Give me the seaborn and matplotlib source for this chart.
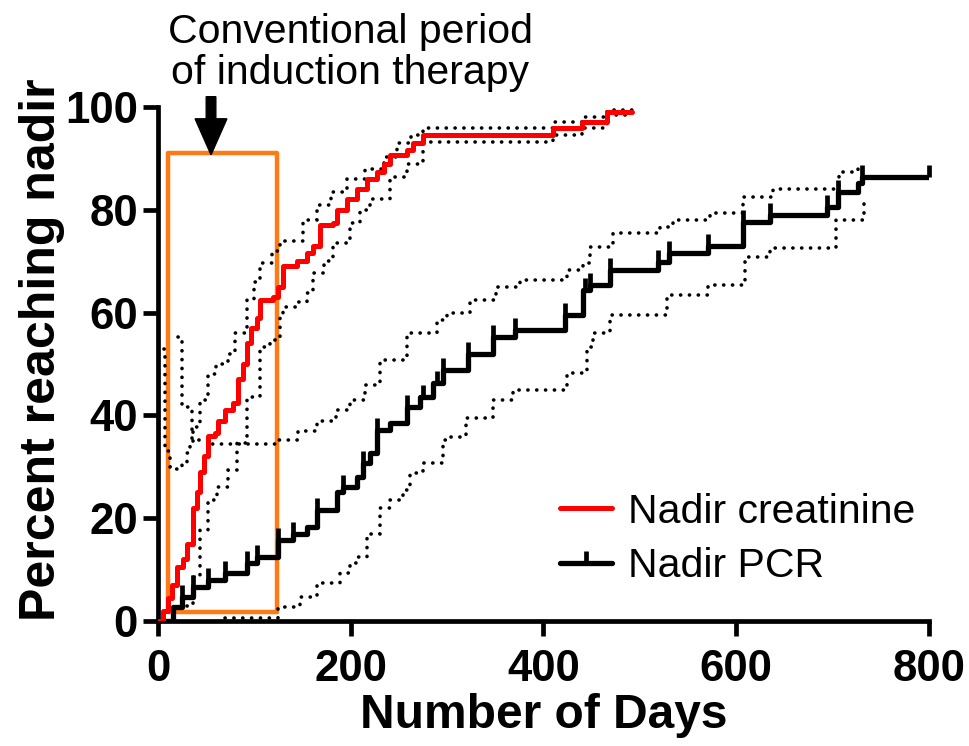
import numpy as np
import matplotlib
matplotlib.use("Agg")
import matplotlib.pyplot as plt
from matplotlib.lines import Line2D
from matplotlib.patches import Rectangle
import seaborn as sns

# ----------------------------
# DATA
# ----------------------------

# Nadir creatinine (Kaplan-Meier, percent reaching nadir)
cr_days = [0, 5, 10, 15, 20, 26, 30, 36, 40, 44, 48, 52, 59, 62, 70, 78, 83, 88,
           92, 97, 103, 106, 119, 124, 130, 144, 155, 161, 168, 182, 186, 196,
           206, 217, 227, 234, 241, 258, 265, 275, 410, 440, 466, 492]
cr_pct = [0, 2, 4.5, 7, 10.5, 12, 15, 22, 25, 29, 32, 36, 36.5, 39, 41, 42.4, 47, 50,
          54, 57, 59, 62.5, 63, 65, 69, 70, 71.6, 73, 77, 77.4, 80, 82,
          84, 86, 87.4, 89, 90.7, 91.6, 93, 94.6, 96, 97, 99, 99]

cr_hi_days = [6, 7, 12, 18, 25, 30, 33, 36, 44, 52, 60, 73, 80, 92, 100, 106, 118,
              127, 150, 165, 180, 196, 215, 234, 248, 262, 275, 410, 440, 466, 492]
cr_hi_pct = [53, 33, 30, 29.5, 31, 32.7, 34.6, 37.7, 43, 48, 50, 52, 56, 62.5, 66, 69.6, 72,
             74, 78, 81, 83.5, 86, 88, 90.3, 93, 94.5, 96, 97, 98, 99.4, 99.4]

cr_lo_days = [30, 36, 44, 52, 61, 73, 82, 92, 106, 116, 127, 130, 144, 155, 161, 172,
              182, 199, 210, 220, 241, 258, 275, 410, 440, 466, 492]
cr_lo_pct = [3, 8.5, 17.7, 23.5, 26, 29.4, 34.6, 43.6, 53.3, 54.7, 60, 61, 62, 63.8, 67.7, 70,
             73.5, 77.4, 80, 82, 86.4, 89, 93.2, 94.5, 96, 98.4, 98.4]

# Nadir PCR
pcr_days = [0, 16, 25, 36, 52, 70, 92, 103, 124, 140, 155, 165, 186, 192, 206, 213,
            220, 227, 241, 258, 272, 285, 296, 322, 348, 370, 422, 441, 448, 469,
            519, 530, 571, 607, 635, 694, 706, 726, 731, 800]
pcr_pct = [0, 2.7, 4.7, 6.6, 8, 9.3, 11.3, 12.5, 15.8, 17, 18.3, 21.6, 25, 26, 28, 30.7,
           32.7, 37.2, 38.5, 41.6, 43.6, 46.3, 48.8, 52, 55.3, 56.6, 59.5, 64.4, 65.4, 68.3,
           69.8, 71.6, 73, 77.6, 79, 80.5, 83.5, 85.2, 86.4, 86.4]

pcr_hi_days = [21, 25, 35, 54, 125, 145, 165, 185, 199, 215, 230, 258, 289, 300, 324,
               351, 376, 424, 441, 448, 472, 521, 534, 573, 607, 638, 707, 726, 730]
pcr_hi_pct = [55.3, 41.6, 35.2, 34.4, 35.2, 37, 39, 41, 43, 46, 50.8, 56, 58.6, 60, 62.5,
              65, 66.3, 68.3, 69.6, 72.8, 75.5, 76.7, 78, 79.4, 82.5, 84, 87.4, 88.7, 88.7]

pcr_lo_days = [70, 124, 147, 165, 189, 199, 206, 217, 230, 241, 254, 261, 275, 296, 303,
               320, 348, 368, 424, 445, 451, 469, 528, 571, 609, 635, 704, 733, 736]
pcr_lo_pct = [0.5, 2.7, 4.7, 7.4, 9.3, 11.3, 12.5, 17, 22, 23.5, 25.5, 28.8, 30.7, 35.2, 35.8,
              39.5, 43, 45, 48.2, 53.3, 56, 59.5, 63.4, 65.4, 70.8, 72.6, 78, 82, 82]

# censored observations on the PCR curve
pcr_censored = [25, 36, 52, 70, 92, 103, 124, 140, 165, 192, 213, 227, 258, 275, 289,
                296, 322, 348, 370, 422, 443, 448, 469, 519, 530, 571, 607, 635, 694,
                706, 731, 800]

# induction therapy window
induction_start = 10.5
induction_end = 123
induction_top = 91

# ----------------------------
# STYLE
# ----------------------------

sns.set_style("ticks")
plt.rcParams['font.family'] = ['Liberation Sans', 'DejaVu Sans']
plt.rcParams['text.color'] = 'black'
plt.rcParams['axes.labelcolor'] = 'black'
plt.rcParams['axes.edgecolor'] = 'black'
plt.rcParams['xtick.color'] = 'black'
plt.rcParams['ytick.color'] = 'black'

RED = '#ff0000'
ORANGE = '#ff7a14'
dotted = (0, (0.05, 2.4))
tick_marker = [(0, 0), (0, 1)]

fig = plt.figure(figsize=(9.7, 7.46), dpi=100)
ax = fig.add_axes([0.1629, 0.1676, 0.7948, 0.689])

# confidence bands (dotted)
for xs, ys in [(cr_hi_days, cr_hi_pct), (cr_lo_days, cr_lo_pct),
               (pcr_hi_days, pcr_hi_pct), (pcr_lo_days, pcr_lo_pct)]:
    sns.lineplot(x=xs, y=ys, ax=ax, color='black', lw=2.6, linestyle=dotted,
                 dash_capstyle='round', drawstyle='steps-post',
                 estimator=None, sort=False, zorder=3)

# induction period box
ax.add_patch(Rectangle((induction_start, 1.8), induction_end - induction_start,
                       induction_top - 1.8, fill=False, ec=ORANGE, lw=3.2,
                       joinstyle='round', zorder=2))

# survival curves
sns.lineplot(x=pcr_days, y=pcr_pct, ax=ax, color='black', lw=3.8,
             drawstyle='steps-post', estimator=None, sort=False, zorder=4)
sns.lineplot(x=cr_days, y=cr_pct, ax=ax, color=RED, lw=3.6,
             drawstyle='steps-post', estimator=None, sort=False, zorder=5)

# censor ticks
idx = np.searchsorted(pcr_days, pcr_censored, side='right') - 1
cens_y = np.array(pcr_pct)[idx]
ax.plot(pcr_censored, cens_y, ls='none', marker=tick_marker, ms=17, mew=3.4,
        color='black', zorder=4, clip_on=False)

# arrow to the induction period
ax.arrow(55, 102, 0, -11.3, width=10, head_width=33, head_length=7,
         length_includes_head=True, color='black', clip_on=False, zorder=6)

fig.text(0.361, 0.982, "Conventional period\nof induction therapy", ha='center',
         va='top', fontsize=29.5, linespacing=1.08)

ax.set_xlim(0, 800)
ax.set_ylim(0, 100)
ax.set_xticks([0, 200, 400, 600, 800])
ax.set_yticks([0, 20, 40, 60, 80, 100])
sns.despine(ax=ax)
for side in ['left', 'bottom']:
    ax.spines[side].set_linewidth(3.4)
ax.tick_params(length=10.5, width=3.4, labelsize=31.5)
ax.tick_params(axis='x', pad=10)
ax.tick_params(axis='y', pad=4)
for lab in ax.get_xticklabels() + ax.get_yticklabels():
    lab.set_fontweight('bold')

ax.set_xlabel("Number of Days", fontsize=34.5, fontweight='bold', labelpad=2)
ax.set_ylabel("Percent reaching nadir", fontsize=36, fontweight='bold',
              labelpad=0, y=0.527)

handles = [
    Line2D([], [], color=RED, lw=3.6),
    Line2D([], [], color='black', lw=3.8, marker=tick_marker, ms=17, mew=3.4),
]
ax.legend(handles, ["Nadir creatinine", "Nadir PCR"], loc='center left',
          bbox_to_anchor=(0.521, 0.16), frameon=False, fontsize=29.5,
          handlelength=1.27, handletextpad=0.39, labelspacing=0.4,
          borderpad=0, borderaxespad=0, numpoints=1)

plt.savefig("out.png", dpi=100)
